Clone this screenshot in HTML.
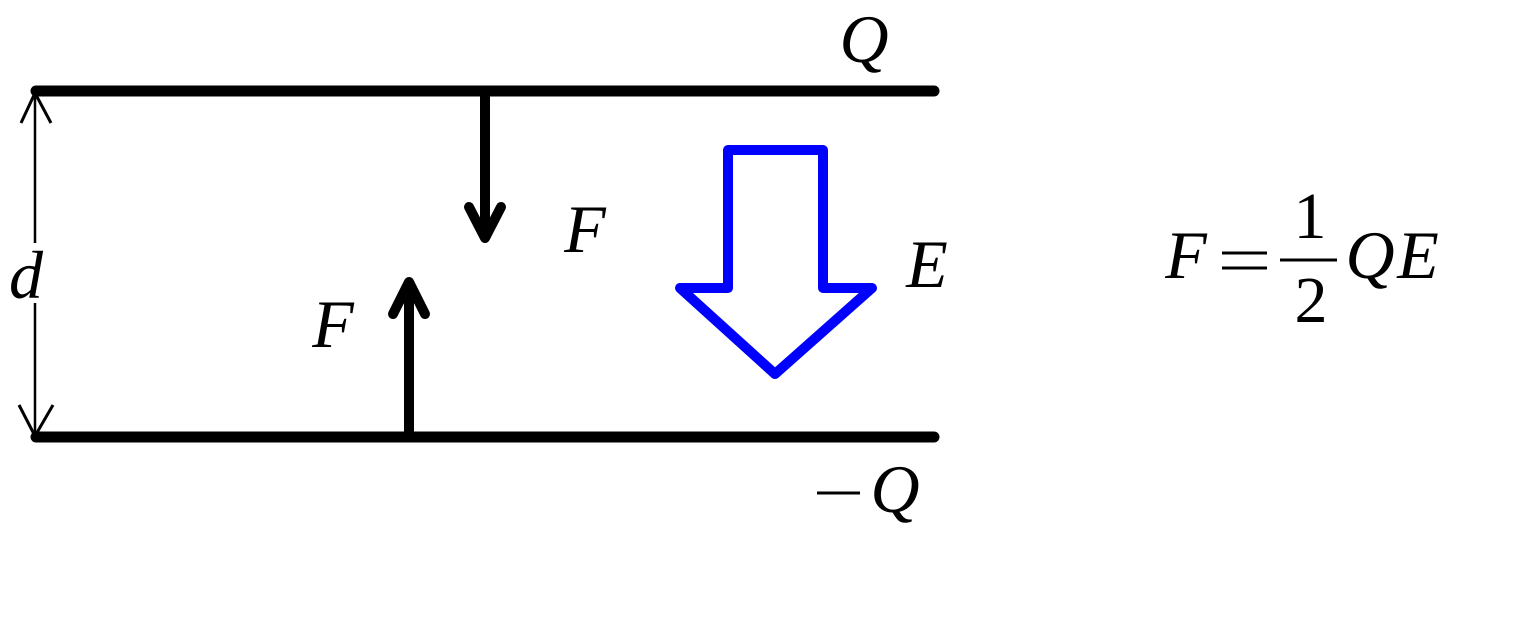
<!DOCTYPE html>
<html>
<head>
<meta charset="utf-8">
<style>
  html, body { margin: 0; padding: 0; background: #fff; }
  body { width: 1536px; height: 630px; overflow: hidden; }
  svg { display: block; }
  .it { font-family: "Liberation Serif", "Noto Serif CJK SC", "DejaVu Serif", serif; font-style: italic; fill: #000; }
  .rm { font-family: "Liberation Serif", "Noto Serif CJK SC", "DejaVu Serif", serif; font-style: normal; fill: #000; }
</style>
</head>
<body>
<svg width="1536" height="630" viewBox="0 0 1536 630" xmlns="http://www.w3.org/2000/svg">
  <rect width="1536" height="630" fill="#fff"/>

  <!-- plates -->
  <line x1="36" y1="91" x2="934" y2="91" stroke="#000" stroke-width="11" stroke-linecap="round"/>
  <line x1="36" y1="437" x2="934" y2="437" stroke="#000" stroke-width="11" stroke-linecap="round"/>

  <!-- dimension line d -->
  <line x1="35" y1="92" x2="35" y2="243" stroke="#000" stroke-width="2.5"/>
  <line x1="35" y1="303" x2="35" y2="437" stroke="#000" stroke-width="2.5"/>
  <polyline points="21,123 35,93 51,123" fill="none" stroke="#000" stroke-width="3"/>
  <polyline points="19,405 35,436 53,405" fill="none" stroke="#000" stroke-width="3"/>
  <text class="it" x="26" y="298" font-size="68" text-anchor="middle">d</text>

  <!-- top force arrow (down) -->
  <line x1="485" y1="91" x2="485" y2="236" stroke="#000" stroke-width="10" stroke-linecap="round"/>
  <polyline points="469,207 485,238 501,207" fill="none" stroke="#000" stroke-width="10" stroke-linecap="round" stroke-linejoin="round"/>
  <text class="it" x="585" y="252" font-size="68" text-anchor="middle">F</text>

  <!-- bottom force arrow (up) -->
  <line x1="409" y1="437" x2="409" y2="284" stroke="#000" stroke-width="10" stroke-linecap="round"/>
  <polyline points="393,314 409,282 425,314" fill="none" stroke="#000" stroke-width="10" stroke-linecap="round" stroke-linejoin="round"/>
  <text class="it" x="333" y="347" font-size="68" text-anchor="middle">F</text>

  <!-- blue field arrow -->
  <polygon points="728,150 823,150 823,288 872,288 775,374 680,288 728,288" fill="none" stroke="#0000ff" stroke-width="10" stroke-linejoin="round"/>
  <text class="it" x="927" y="287" font-size="68" text-anchor="middle">E</text>

  <!-- charges -->
  <text class="it" x="864" y="62" font-size="68" text-anchor="middle">Q</text>
  <rect x="817" y="491.5" width="43" height="3" fill="#000"/>
  <text class="it" x="895" y="512" font-size="68" text-anchor="middle">Q</text>

  <!-- formula F = 1/2 Q E -->
  <text class="it" x="1186" y="278" font-size="68" text-anchor="middle">F</text>
  <rect x="1222" y="251.5" width="45" height="3" fill="#000"/>
  <rect x="1222" y="266.5" width="45" height="3" fill="#000"/>
  <rect x="1280" y="258.5" width="57" height="3" fill="#000"/>
  <text class="rm" x="1310" y="238" font-size="66" text-anchor="middle">1</text>
  <text class="rm" x="1311" y="322" font-size="66" text-anchor="middle">2</text>
  <text class="it" x="1370" y="278" font-size="68" text-anchor="middle">Q</text>
  <text class="it" x="1418" y="278" font-size="68" text-anchor="middle">E</text>
</svg>
</body>
</html>
